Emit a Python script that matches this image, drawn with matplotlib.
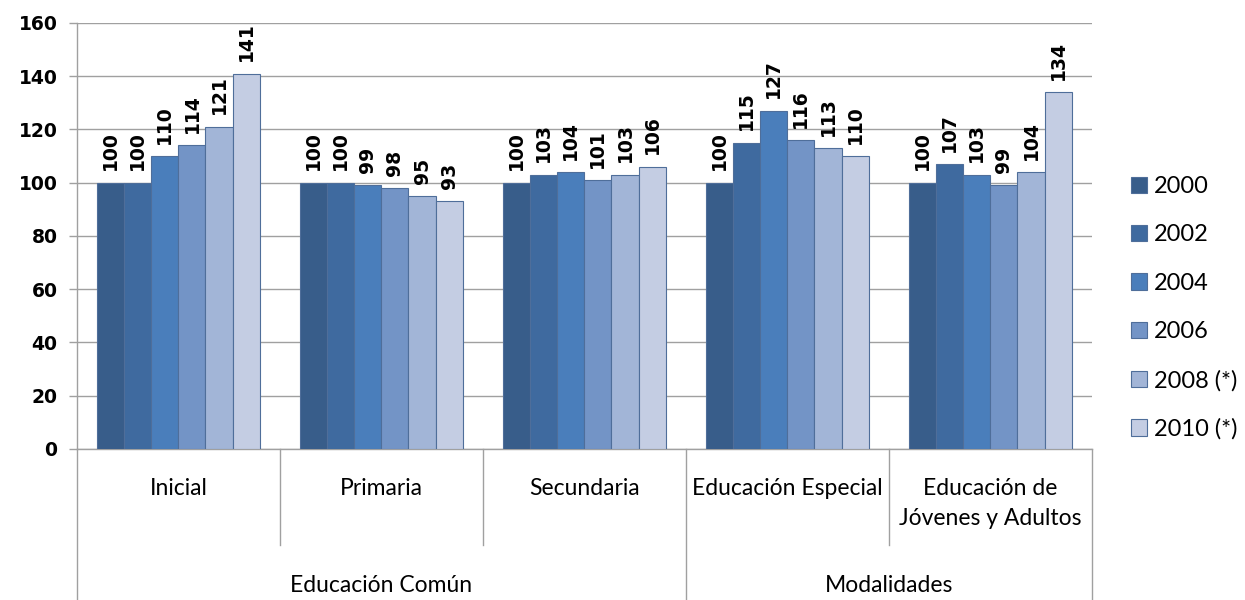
import matplotlib
matplotlib.use("Agg")
from matplotlib import pyplot as plt
import numpy as np

categories = ['Inicial', 'Primaria', 'Secundaria', 'Educación Especial',
              'Educación de\nJóvenes y Adultos']
groups = ['Educación Común', 'Modalidades']
group_sizes = [3, 2]
series = ['2000', '2002', '2004', '2006', '2008 (*)', '2010 (*)']
values = [
    [100, 100, 100, 100, 100],
    [100, 100, 103, 115, 107],
    [110, 99, 104, 127, 103],
    [114, 98, 101, 116, 99],
    [121, 95, 103, 113, 104],
    [141, 93, 106, 110, 134],
]
colors = ['#385D8A', '#3F6A9F', '#4A7EBB', '#7394C6', '#A2B5D7', '#C4CDE3']
edge = '#4F6E9A'
axcol = '#A0A0A0'

fig = plt.figure(figsize=(12.45, 6), dpi=100)
ax = fig.add_axes([0.0618, 0.2517, 0.8152, 0.71])

n = len(series)
x = np.arange(len(categories))
w = 0.8 / n
for i in range(n):
    pos = x - 0.4 + w * (i + 0.5)
    bars = ax.bar(pos, values[i], w, color=colors[i], edgecolor=edge,
                  linewidth=0.8, label=series[i], zorder=3)
    for b, v in zip(bars, values[i]):
        ax.annotate(str(v), (b.get_x() + b.get_width() / 2, v),
                    xytext=(0, 9), textcoords='offset points',
                    rotation=90, ha='center', va='bottom',
                    fontsize=13.5, fontweight='bold', family='DejaVu Sans')

ax.set_xlim(-0.5, len(categories) - 0.5)
ax.set_ylim(0, 160)
ax.set_yticks(range(0, 161, 20))
ax.yaxis.grid(True, color=axcol, linewidth=1, zorder=0)
ax.tick_params(axis='y', length=6, color=axcol, width=1, pad=8,
               labelsize=13.5)
for t in ax.get_yticklabels():
    t.set_fontweight('bold')
ax.set_xticks([])
for s in ['top', 'right']:
    ax.spines[s].set_visible(False)
ax.spines['left'].set_color(axcol)
ax.spines['bottom'].set_color(axcol)
ax.spines['left'].set_linewidth(1)
ax.spines['bottom'].set_linewidth(1)

# multi-level category axis
trans = ax.get_xaxis_transform()
row1 = -0.225
row2 = -0.36
bounds = [0]
for g in group_sizes:
    bounds.append(bounds[-1] + g)
for k in range(len(categories) + 1):
    y0 = row2 if k in bounds else row1
    ax.plot([k - 0.5, k - 0.5], [0, y0], transform=trans, color=axcol,
            linewidth=1, clip_on=False)
for k, c in enumerate(categories):
    ax.text(k, -0.068, c, transform=trans, ha='center', va='top',
            fontsize=16.5, family='Lato', linespacing=1.55)
for gi, g in enumerate(groups):
    mid = (bounds[gi] + bounds[gi + 1]) / 2 - 0.5
    ax.text(mid, -0.32, g, transform=trans, ha='center', va='center',
            fontsize=16.5, family='Lato')

fig.legend(loc='upper left', bbox_to_anchor=(0.891, 0.742), frameon=False,
           prop={'family': 'Lato', 'size': 17}, labelspacing=1.16,
           handlelength=0.7, handleheight=0.7, handletextpad=0.3)

fig.savefig('out.png', dpi=100)
